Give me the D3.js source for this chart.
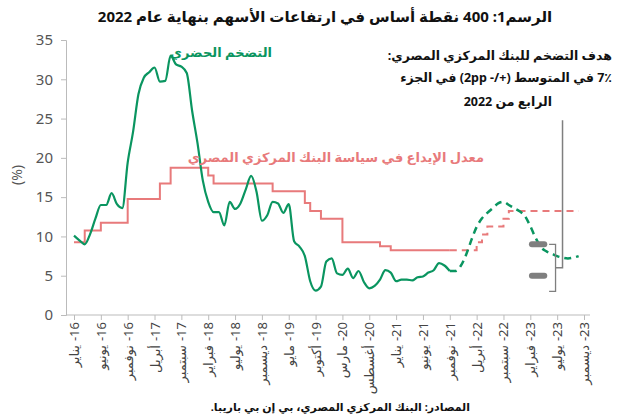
<!DOCTYPE html>
<html><head><meta charset="utf-8">
<script src="https://cdn.jsdelivr.net/npm/d3@7"></script>
<style>body{margin:0;background:#fff}text{font-family:"Noto Sans","DejaVu Sans",sans-serif}</style>
</head><body><svg id="c" width="626" height="418"></svg>
<script>
// months indexed from Jan 2016 (0)
const inflationActual = [10.1,9.5,9.0,10.3,12.3,14.0,14.0,15.5,14.1,13.6,19.4,23.3,
 28.1,30.2,30.9,31.5,29.7,29.8,33.0,31.9,31.6,30.8,26.0,21.9,
 17.1,14.4,13.1,13.1,11.4,14.4,13.5,14.2,16.0,17.7,15.7,12.0,
 12.7,14.4,14.2,13.0,14.1,9.4,8.7,7.5,4.3,3.1,3.6,6.8,
 7.2,5.3,5.1,5.9,4.7,5.6,4.2,3.4,3.7,4.5,5.7,5.4,
 4.3,4.5,4.5,4.4,4.8,4.9,5.4,5.7,6.6,6.3,5.6];
const inflationForecast = [5.6,6.2,7.6,9.5,11.2,12.3,13.0,13.6,14.2,14.4,14.0,13.6,13.2,12.6,11.3,9.8,8.6,8.1,7.8,7.5,7.3,7.2,7.3,7.5];
const rateActual = [9.25,9.25,10.75,10.75,10.75,11.75,11.75,11.75,11.75,11.75,14.75,14.75,
 14.75,14.75,14.75,14.75,16.75,16.75,18.75,18.75,18.75,18.75,18.75,18.75,
 18.75,17.75,16.75,16.75,16.75,16.75,16.75,16.75,16.75,16.75,16.75,16.75,
 16.75,15.75,15.75,15.75,15.75,15.75,15.75,14.25,13.25,13.25,12.25,12.25,
 12.25,12.25,9.25,9.25,9.25,9.25,9.25,9.25,9.25,8.75,8.75,8.25,
 8.25,8.25,8.25,8.25,8.25,8.25,8.25,8.25,8.25,8.25,8.25];
const rateForecast = [8.25,8.25,8.25,8.25,9.25,10.25,11.25,11.25,11.25,12.25,13.25,13.25,13.25,13.25,13.25,13.25,13.25,13.25,13.25,13.25,13.25,13.25,13.25,13.25];
const forecastStart = 70;
const tickMonths = [0,5,10,15,20,25,30,35,40,45,50,55,60,65,70,75,80,85,90,95];
const monthNames = ["يناير","فبراير","مارس","أبريل","مايو","يونيو","يوليو","أغسطس","سبتمبر","أكتوبر","نوفمبر","ديسمبر"];
const targetBand = [9,5];
const yTicks = [0,5,10,15,20,25,30,35];

const svg = d3.select("#c");
const x = d3.scaleLinear().domain([0,95]).range([74,584]);
const y = d3.scaleLinear().domain([0,35]).range([315,40]);
const green="#0a9560", pink="#e87a7b";

svg.append("text").attr("x",325).attr("y",22).attr("text-anchor","middle").attr("font-weight","bold").attr("font-size",15).attr("direction","rtl").attr("fill","#111").text("الرسم1: 400 نقطة أساس في ارتفاعات الأسهم بنهاية عام 2022");

const ya = svg.append("g").attr("transform","translate(66,0)").call(d3.axisLeft(y).tickValues(yTicks).tickSize(5).tickPadding(8));
ya.select(".domain").attr("stroke","#bbb"); ya.selectAll("line").attr("stroke","#bbb");
ya.selectAll("text").attr("font-size",15).attr("fill","#555").attr("font-family","Roboto, sans-serif");
svg.append("text").attr("transform","translate(22,175) rotate(-90)").attr("text-anchor","middle").attr("font-size",14).attr("fill","#555").text("(%)");
const xa = svg.append("g").attr("transform","translate(0,315)").call(d3.axisBottom(x).tickValues(tickMonths).tickSize(5).tickFormat(""));
xa.select(".domain").attr("stroke","#bbb").attr("d","M66,0H590"); xa.selectAll("line").attr("stroke","#bbb");
tickMonths.forEach(m=>{
  const yr=16+Math.floor(m/12), mn=monthNames[m%12];
  const yt = svg.append("text").attr("transform",`translate(${x(m)+5},322) rotate(-90)`).attr("text-anchor","end").attr("font-size",13).attr("fill","#444").attr("direction","ltr").text("-"+yr);
  const w = yt.node().getComputedTextLength();
  svg.append("text").attr("transform",`translate(${x(m)+5},${322+w+4}) rotate(-90)`).attr("text-anchor","end").attr("font-size",13).attr("fill","#444").text(mn);
});

const line = d3.line().x(d=>x(d[0])).y(d=>y(d[1])).curve(d3.curveMonotoneX);
const stepLine = d3.line().x(d=>x(d[0])).y(d=>y(d[1])).curve(d3.curveStepAfter);
const ia = inflationActual.map((v,i)=>[i,v]);
const ifc = [[forecastStart,inflationActual[forecastStart]]].concat(inflationForecast.map((v,i)=>[forecastStart+1+i,v]));
const ra = rateActual.map((v,i)=>[i,v]);
const rf = [[forecastStart,rateActual[forecastStart]]].concat(rateForecast.map((v,i)=>[forecastStart+1+i,v]));

svg.append("path").attr("d",stepLine(ra)).attr("fill","none").attr("stroke",pink).attr("stroke-width",2);
svg.append("path").attr("d",stepLine(rf)).attr("fill","none").attr("stroke",pink).attr("stroke-width",2).attr("stroke-dasharray","7,5");
svg.append("path").attr("d",line(ia)).attr("fill","none").attr("stroke",green).attr("stroke-width",2.2);
svg.append("path").attr("d",line(ifc)).attr("fill","none").attr("stroke",green).attr("stroke-width",2.5).attr("stroke-dasharray","7,5");

const gray="#7f7f7f";
targetBand.forEach(v=>svg.append("line").attr("x1",x(85.3)).attr("x2",x(87.6)).attr("y1",y(v)).attr("y2",y(v)).attr("stroke",gray).attr("stroke-width",6).attr("stroke-linecap","round"));
svg.append("path").attr("d",`M${x(88.5)},${y(9)}H${x(89.7)}V${y(3)}H${x(88.5)}`).attr("fill","none").attr("stroke",gray).attr("stroke-width",1.3);
svg.append("path").attr("d",`M${x(89.7)},${y(6)}H${x(91)}V${y(24.8)}`).attr("fill","none").attr("stroke",gray).attr("stroke-width",1.5);

// RTL text: text-anchor "start" anchors the right edge
function rtext(xx,yy,t,size,col){return svg.append("text").attr("x",xx).attr("y",yy).attr("text-anchor","start").attr("direction","rtl").attr("font-weight","bold").attr("font-size",size).attr("fill",col).text(t);}
rtext(272,57,"التضخم الحضري",13,green);
rtext(484,162,"معدل الإيداع في سياسة البنك المركزي المصري",13,pink);
rtext(612,60,"هدف التضخم للبنك المركزي المصري:",12.5,"#111");
rtext(612,82,"7٪ في المتوسط (+/- 2pp) في الجزء",12.5,"#111");
rtext(552,106,"الرابع من 2022",12.5,"#111");
rtext(470,411,"المصادر: البنك المركزي المصري، بي إن بي باريبا.",11,"#111");
</script></body></html>
